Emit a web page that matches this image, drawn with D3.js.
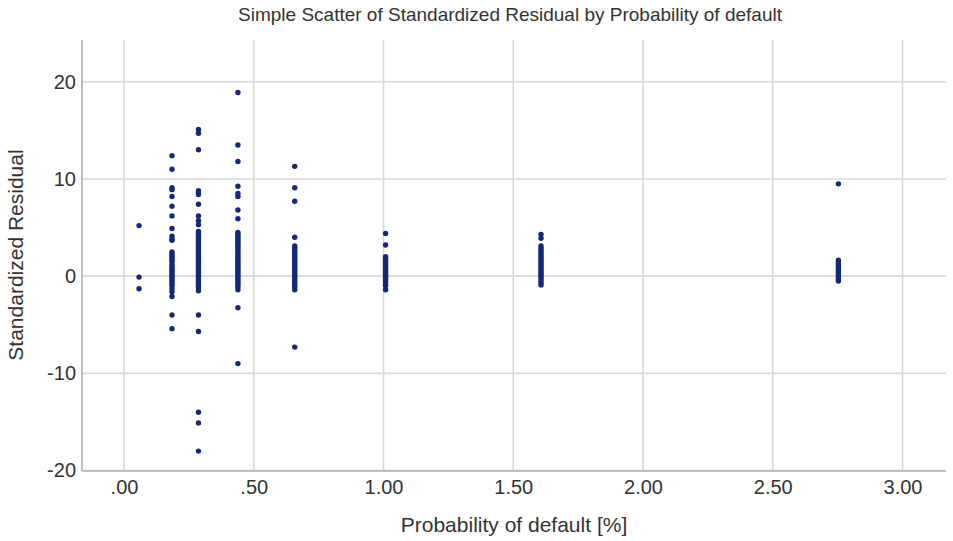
<!DOCTYPE html>
<html>
<head>
<meta charset="utf-8">
<script src="https://cdn.jsdelivr.net/npm/d3@7"></script>
<style>
  body { margin: 0; background: #fff; }
  text { font-family: "Liberation Sans", Arial, sans-serif; fill: #333; }
</style>
</head>
<body>
<script>
// Probability of default levels (x) and standardized residuals at each level
const probLevels = [0.058, 0.185, 0.287, 0.439, 0.658, 1.008, 1.607, 2.753];

const resid_058 = [5.2, -0.1, -1.3];
const resid_185 = [12.4, 11.0, 9.1, 8.9, 8.2, 7.2, 6.2, 4.9, 4.1, 3.8, 3.7,
  2.5, 2.3, 2.1, 1.9, 1.7, 1.5, 1.2, 1.0, 0.8, 0.6, 0.4, 0.2, 0.0, -0.2,
  -0.4, -0.6, -0.8, -1.0, -1.3, -1.6, -2.1, -4.0, -5.4];
const resid_287 = [15.1, 14.7, 13.0, 8.8, 8.6, 8.4, 7.4, 6.2, 5.7, 5.3,
  4.6, 4.4, 4.2, 4.0, 3.8, 3.6, 3.4, 3.2, 3.0, 2.8, 2.6, 2.4, 2.2, 2.0, 1.8,
  1.6, 1.4, 1.2, 1.0, 0.8, 0.6, 0.4, 0.2, 0.0, -0.2, -0.4, -0.6, -0.8, -1.0,
  -1.2, -1.5, -4.0, -5.7, -14.0, -15.1, -18.0];
const resid_439 = [18.9, 13.5, 11.8, 9.25, 8.5, 8.2, 6.8, 5.9,
  4.5, 4.3, 4.1, 3.9, 3.7, 3.5, 3.3, 3.1, 2.9, 2.7, 2.5, 2.3, 2.1, 1.9, 1.7,
  1.5, 1.3, 1.1, 0.9, 0.7, 0.5, 0.3, 0.1, -0.1, -0.3, -0.5, -0.7, -0.9, -1.1,
  -1.4, -3.25, -9.0];
const resid_658 = [11.3, 9.1, 7.7, 4.0, 3.1, 2.9, 2.7, 2.5, 2.3, 2.1, 1.9,
  1.7, 1.5, 1.3, 1.1, 0.9, 0.7, 0.5, 0.3, 0.1, -0.1, -0.3, -0.5, -0.7, -0.9,
  -1.1, -1.4, -7.3];
const resid_1008 = [4.4, 3.2, 2.0, 1.8, 1.6, 1.4, 1.2, 1.0, 0.8, 0.6, 0.4,
  0.2, 0.0, -0.2, -0.4, -0.6, -0.8, -1.0, -1.4];
const resid_1607 = [4.3, 3.9, 3.1, 2.9, 2.7, 2.5, 2.3, 2.1, 1.9, 1.7, 1.5,
  1.3, 1.1, 0.9, 0.7, 0.5, 0.3, 0.1, -0.1, -0.3, -0.5, -0.7, -0.9];
const resid_2753 = [9.5, 1.65, 1.45, 1.25, 1.05, 0.85, 0.65, 0.45, 0.25,
  0.05, -0.15, -0.35, -0.5];

const residuals = [resid_058, resid_185, resid_287, resid_439, resid_658,
  resid_1008, resid_1607, resid_2753];

const xTicks = [0, 0.5, 1, 1.5, 2, 2.5, 3];
const xTickLabels = ['.00', '.50', '1.00', '1.50', '2.00', '2.50', '3.00'];
const yTicks = [-20, -10, 0, 10, 20];
const yTickLabels = ['-20', '-10', '0', '10', '20'];

const width = 953, height = 541;
const plot = { left: 82, right: 946, top: 40, bottom: 471 };

const svg = d3.select('body').append('svg')
  .attr('width', width)
  .attr('height', height);

const x = d3.scaleLinear()
  .domain([-0.1618, 3.1676])
  .range([plot.left, plot.right]);

const y = d3.scaleLinear()
  .domain([-20.05, 24.3])
  .range([plot.bottom, plot.top]);

// Grid lines
const grid = svg.append('g').attr('class', 'grid');
grid.selectAll('line.h').data(yTicks).enter().append('line')
  .attr('x1', plot.left).attr('x2', plot.right)
  .attr('y1', d => y(d)).attr('y2', d => y(d))
  .attr('stroke', '#d9d9d9').attr('stroke-width', 1.6);
grid.selectAll('line.v').data(xTicks).enter().append('line')
  .attr('x1', d => x(d)).attr('x2', d => x(d))
  .attr('y1', plot.top).attr('y2', plot.bottom)
  .attr('stroke', '#d9d9d9').attr('stroke-width', 1.6);

// Axis lines
svg.append('line')
  .attr('x1', plot.left).attr('x2', plot.left)
  .attr('y1', plot.top).attr('y2', plot.bottom)
  .attr('stroke', '#b0b0b0').attr('stroke-width', 1.6);
svg.append('line')
  .attr('x1', plot.left).attr('x2', plot.right)
  .attr('y1', plot.bottom).attr('y2', plot.bottom)
  .attr('stroke', '#b0b0b0').attr('stroke-width', 1.6);

// Axes (labels only)
const xAxis = d3.axisBottom(x).tickValues(xTicks).tickSize(0)
  .tickFormat((d, i) => xTickLabels[i]);
svg.append('g')
  .attr('transform', `translate(0,${plot.bottom})`)
  .call(xAxis)
  .call(g => g.select('.domain').remove())
  .selectAll('text')
  .attr('dy', 0).attr('y', 23)
  .style('font-size', '20px')
  .style('font-family', '"Liberation Sans", Arial, sans-serif')
  .attr('fill', '#333');

const yAxis = d3.axisLeft(y).tickValues(yTicks).tickSize(0)
  .tickFormat((d, i) => yTickLabels[i]);
svg.append('g')
  .attr('transform', `translate(${plot.left},0)`)
  .call(yAxis)
  .call(g => g.select('.domain').remove())
  .selectAll('text')
  .attr('x', -6)
  .style('font-size', '20px')
  .style('font-family', '"Liberation Sans", Arial, sans-serif')
  .attr('fill', '#333');

// Points
const points = [];
probLevels.forEach((p, i) => {
  residuals[i].forEach(r => points.push({ p: p, r: r }));
});
svg.append('g').selectAll('circle').data(points).enter().append('circle')
  .attr('cx', d => x(d.p))
  .attr('cy', d => y(d.r))
  .attr('r', 2.7)
  .attr('fill', '#14287a');

// Titles
svg.append('text')
  .attr('x', 510).attr('y', 21)
  .attr('text-anchor', 'middle')
  .style('font-size', '19px')
  .text('Simple Scatter of Standardized Residual by Probability of default');

svg.append('text')
  .attr('x', 514).attr('y', 532)
  .attr('text-anchor', 'middle')
  .style('font-size', '21px')
  .text('Probability of default [%]');

svg.append('text')
  .attr('transform', 'translate(23,255) rotate(-90)')
  .attr('text-anchor', 'middle')
  .style('font-size', '21px')
  .text('Standardized Residual');
</script>
</body>
</html>
